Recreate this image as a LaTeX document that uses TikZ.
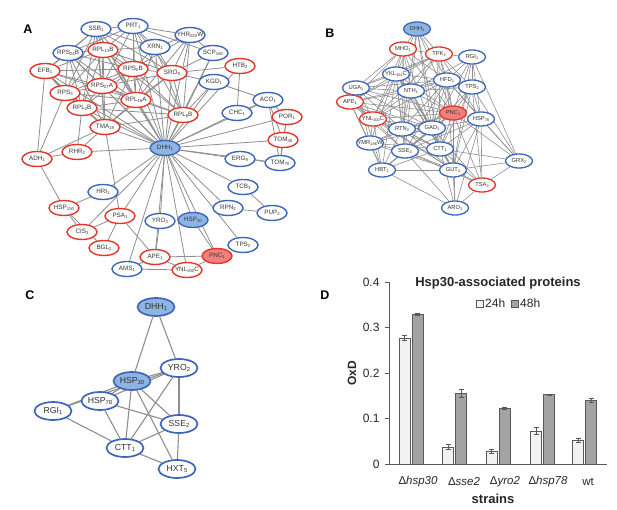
\documentclass[tikz,border=0pt]{standalone}
\usepackage{fontspec}
\setmainfont{Liberation Sans}
\usetikzlibrary{shapes.geometric}
\definecolor{nred}{HTML}{E2362A}
\definecolor{nblue}{HTML}{3E66B8}
\definecolor{fblue}{HTML}{8EB4E3}
\definecolor{fred}{HTML}{F08080}
\definecolor{egray}{HTML}{8E8E8E}
\definecolor{bwhite}{HTML}{F2F2F2}
\definecolor{bgrey}{HTML}{A3A3A3}
\definecolor{bdark}{HTML}{595959}
\pgfdeclarelayer{bg}
\pgfsetlayers{bg,main}
\newcommand\lw[1]{\raisebox{-0.2ex}{\scalebox{0.68}{#1}}}
\newcommand\N[5]{\node[#4] (#1) at (#2,#3) {\makebox[0pt]{#5}};}
\newcommand\E[2]{\foreach \nb in {#2}{\draw[lnk] (#1) -- (\nb);}}
\newcommand\F[2]{\foreach \nb in {#2}{\draw[lnkb] (#1) -- (\nb);}}
\newcommand\G[2]{\foreach \nb in {#2}{\draw[lnkc] (#1) -- (\nb);}}
\newcommand\mybar[5]{%
  \draw[#5] (#1,464) rectangle ({#1+11},{464-#2*455});
  \draw[errb] ({#1+5.5},{464-(#2-#3)*455}) -- ({#1+5.5},{464-(#2+#3)*455})
    ({#1+3},{464-(#2+#3)*455}) -- ({#1+8},{464-(#2+#3)*455})
    ({#1+3},{464-(#2-#3)*455}) -- ({#1+8},{464-(#2-#3)*455});}
\tikzset{
  base/.style={ellipse, inner sep=0pt, fill=white, text=black!80},
  an/.style={base, minimum width=30pt, minimum height=15pt, line width=1.4pt, font=\fontsize{6.3}{7}\selectfont},
  bn/.style={base, minimum width=27pt, minimum height=14pt, line width=1.3pt, font=\fontsize{5.8}{6.5}\selectfont},
  cn/.style={base, minimum width=37pt, minimum height=18pt, line width=1.7pt, font=\fontsize{8.7}{10}\selectfont},
  rd/.style={draw=nred}, bl/.style={draw=nblue},
  fbl/.style={draw=nblue, fill=fblue}, frd/.style={draw=nred, fill=fred},
  lnk/.style={draw=egray, line width=0.8pt},
  lnkb/.style={draw=egray, line width=0.6pt},
  lnkc/.style={draw=egray, line width=1.1pt},
  plab/.style={font=\fontsize{12.5}{14}\selectfont\bfseries},
  wbar/.style={draw=bdark, fill=bwhite, line width=0.8pt},
  gbar/.style={draw=bdark, fill=bgrey, line width=0.8pt},
  errb/.style={draw=bdark, line width=0.8pt},
  txd/.style={font=\fontsize{12}{14}\selectfont, text=black!85},
}
\begin{document}
\begin{tikzpicture}[x=1pt,y=-1pt]
\useasboundingbox (0,0) rectangle (617,510);
% panel labels
\node[plab] (labA) at (28,29) {A};
\node[plab] (labB) at (330,33) {B};
\node[plab] (labC) at (30,295) {C};
\node[plab] (labD) at (325,295) {D};
% ---------------- Panel A nodes
\N{aSSB}{96}{29}{an,bl}{SSB\lw{1}}
\N{aPRT}{133}{26}{an,bl}{PRT\lw{1}}
\N{aXRN}{155}{47}{an,bl}{XRN\lw{1}}
\N{aYHR}{190}{35}{an,bl}{YHR\lw{020}W}
\N{aSCP}{213}{53}{an,bl}{SCP\lw{160}}
\N{aHTB}{240}{66}{an,rd}{HTB\lw{2}}
\N{aSRO}{172}{73}{an,rd}{SRO\lw{9}}
\N{aKGD}{214}{82}{an,bl}{KGD\lw{1}}
\N{aACO}{268}{100}{an,bl}{ACO\lw{1}}
\N{aCHC}{237}{113}{an,bl}{CHC\lw{1}}
\N{aRPLsB}{183}{115}{an,rd}{RPL\lw{6}B}
\N{aPOR}{287}{117}{an,rd}{POR\lw{1}}
\N{aRPStfB}{68}{53}{an,bl}{RPS\lw{24}B}
\N{aRPLtB}{103}{50}{an,rd}{RPL\lw{13}B}
\N{aEFB}{45}{71}{an,rd}{EFB\lw{1}}
\N{aRPSzB}{133}{69}{an,rd}{RPS\lw{0}B}
\N{aRPSt}{65}{93}{an,rd}{RPS\lw{3}}
\N{aRPSsA}{102}{86}{an,rd}{RPS\lw{27}A}
\N{aRPLsA}{136}{100}{an,rd}{RPL\lw{16}A}
\N{aRPLtwB}{82}{108}{an,rd}{RPL\lw{2}B}
\N{aTMA}{105}{127}{an,rd}{TMA\lw{19}}
\N{aADH}{37}{159}{an,rd}{ADH\lw{1}}
\N{aRHR}{77}{152}{an,rd}{RHR\lw{2}}
\N{aDHH}{165}{148}{an,fbl}{DHH\lw{1}}
\N{aHRI}{103}{192}{an,bl}{HRI\lw{1}}
\N{aHSPa}{64}{208}{an,rd}{HSP\lw{150}}
\N{aPSA}{120}{216}{an,rd}{PSA\lw{1}}
\N{aCIS}{82}{232}{an,rd}{CIS\lw{3}}
\N{aBGL}{104}{248}{an,rd}{BGL\lw{2}}
\N{aYRO}{160}{221}{an,bl}{YRO\lw{2}}
\N{aHSPb}{193}{220}{an,fbl}{HSP\lw{30}}
\N{aTOMa}{283}{140}{an,rd}{TOM\lw{40}}
\N{aERG}{240}{159}{an,bl}{ERG\lw{9}}
\N{aTOMb}{280}{163}{an,bl}{TOM\lw{70}}
\N{aTCB}{243}{187}{an,bl}{TCB\lw{3}}
\N{aRPN}{228}{208}{an,bl}{RPN\lw{2}}
\N{aPUP}{272}{213}{an,bl}{PUP\lw{2}}
\N{aTPS}{243}{245}{an,bl}{TPS\lw{2}}
\N{aAPE}{155}{257}{an,rd}{APE\lw{1}}
\N{aPNC}{217}{256}{an,frd}{PNC\lw{1}}
\N{aAMS}{127}{269}{an,bl}{AMS\lw{1}}
\N{aYNL}{187}{270}{an,rd}{YNL\lw{200}C}
% ---------------- Panel B nodes
\N{bDHH}{417}{29}{bn,fbl}{DHH\lw{1}}
\N{bMHO}{403}{49}{bn,rd}{MHO\lw{1}}
\N{bTPK}{439}{54}{bn,rd}{TPK\lw{2}}
\N{bRGI}{472}{57}{bn,bl}{RGI\lw{1}}
\N{bYKL}{396}{74}{bn,bl}{YKL\lw{151}C}
\N{bUGA}{356}{88}{bn,bl}{UGA\lw{1}}
\N{bNTH}{411}{91}{bn,bl}{NTH\lw{1}}
\N{bHFD}{447}{80}{bn,bl}{HFD\lw{1}}
\N{bTPS}{472}{87}{bn,bl}{TPS\lw{2}}
\N{bAPE}{350}{102}{bn,rd}{APE\lw{1}}
\N{bPNC}{453}{113}{bn,frd}{PNC\lw{1}}
\N{bHSP}{481}{119}{bn,bl}{HSP\lw{78}}
\N{bYNL}{373}{119}{bn,rd}{YNL\lw{200}C}
\N{bRTN}{402}{129}{bn,bl}{RTN\lw{2}}
\N{bGAD}{432}{128}{bn,bl}{GAD\lw{1}}
\N{bYMR}{370}{143}{bn,bl}{YMR\lw{196}W}
\N{bSSE}{405}{151}{bn,bl}{SSE\lw{2}}
\N{bCTT}{440}{149}{bn,bl}{CTT\lw{1}}
\N{bHBT}{382}{170}{bn,bl}{HBT\lw{1}}
\N{bGUT}{453}{170}{bn,bl}{GUT\lw{2}}
\N{bGRX}{519}{161}{bn,bl}{GRX\lw{2}}
\N{bTSA}{482}{185}{bn,rd}{TSA\lw{2}}
\N{bARO}{455}{208}{bn,bl}{ARO\lw{1}}
% ---------------- Panel C nodes
\N{cDHH}{156}{307}{cn,fbl}{DHH\lw{1}}
\N{cYRO}{179}{368}{cn,bl}{YRO\lw{2}}
\N{cHSPa}{132}{381}{cn,fbl}{HSP\lw{30}}
\N{cHSPb}{100}{401}{cn,bl}{HSP\lw{78}}
\N{cRGI}{53}{411}{cn,bl}{RGI\lw{1}}
\N{cSSE}{179}{424}{cn,bl}{SSE\lw{2}}
\N{cCTT}{125}{448}{cn,bl}{CTT\lw{1}}
\N{cHXT}{177}{469}{cn,bl}{HXT\lw{5}}
\begin{pgfonlayer}{bg}
% A edges
\E{aDHH}{aSSB,aPRT,aXRN,aYHR,aSCP,aSRO,aKGD,aRPLsB,aRPSzB,aRPLsA,aRPSsA,aRPLtB,aRPSt,aRPLtwB,aTMA,aRHR,aEFB,aRPStfB,aHRI,aPSA,aCIS,aYRO,aHSPb,aAPE,aPNC,aAMS,aYNL,aTPS,aRPN,aTCB,aERG,aTOMb,aTOMa,aPOR,aACO,aCHC,aHTB}
\E{aSSB}{aPRT,aRPStfB,aRPLtB,aRPSzB,aRPSsA,aRPLsA,aRPLtwB,aSRO,aXRN,aEFB,aRPSt,aTMA}
\E{aPRT}{aXRN,aYHR,aRPStfB,aRPLtB,aRPSzB,aSRO,aRPLsA,aRPSsA,aRPLsB,aSCP}
\E{aXRN}{aYHR,aSRO,aRPSzB,aRPLsB,aRPLtB,aRPLsA}
\E{aYHR}{aSRO,aSCP,aRPLsB,aRPSzB,aRPLsA}
\E{aSCP}{aSRO,aRPLsB}
\E{aSRO}{aHTB,aKGD,aRPLsB,aRPSzB,aRPLsA,aRPSsA,aTMA,aRPLtB}
\E{aRPStfB}{aRPLtB,aEFB,aRPSt,aRPSsA,aRPLtwB,aRPSzB,aRPLsA,aTMA}
\E{aRPLtB}{aRPSzB,aRPSsA,aRPLsA,aRPSt,aRPLtwB,aEFB,aTMA,aRPLsB}
\E{aEFB}{aRPSt,aRPSsA,aRPLtwB,aRPSzB,aRPLsA,aTMA,aADH}
\E{aRPSzB}{aRPSsA,aRPLsA,aRPLsB,aRPLtwB,aTMA,aRPSt}
\E{aRPSt}{aRPSsA,aRPLtwB,aRPLsA,aTMA,aADH}
\E{aRPSsA}{aRPLsA,aRPLtwB,aTMA,aRPLsB}
\E{aRPLsA}{aRPLtwB,aTMA,aRPLsB}
\E{aRPLtwB}{aTMA,aRPLsB,aRHR}
\E{aTMA}{aRHR,aADH,aPSA,aRPLsB}
\E{aKGD}{aACO,aRPLsB}
\E{aHTB}{aCHC}
\E{aACO}{aCHC,aPOR,aTOMa,aTOMb}
\E{aPOR}{aTOMa,aTOMb}
\E{aTOMa}{aTOMb}
\E{aERG}{aTOMb}
\E{aPUP}{aTCB,aRPN}
\E{aADH}{aRHR,aHSPa}
\E{aHSPa}{aHRI,aCIS,aBGL}
\E{aPSA}{aCIS,aBGL,aAPE}
\E{aAPE}{aYRO,aPNC,aYNL,aAMS}
\E{aYNL}{aAMS,aPNC}
\E{aPNC}{aHSPb}
% B edges
\F{bDHH}{bMHO,bTPK,bYKL,bNTH,bHFD,bPNC,bGAD,bCTT,bRTN}
\F{bMHO}{bTPK,bYKL,bUGA,bAPE,bNTH,bHFD,bPNC,bGAD,bYNL,bRTN,bSSE}
\F{bTPK}{bRGI,bHFD,bTPS,bYKL,bNTH,bPNC,bGAD,bAPE,bUGA,bYNL,bCTT,bHSP}
\F{bRGI}{bHFD,bTPS,bPNC,bHSP,bGUT,bGRX,bNTH,bGAD}
\F{bYKL}{bUGA,bAPE,bNTH,bHFD,bPNC,bYNL,bRTN,bGAD,bYMR,bSSE,bHBT,bCTT,bGUT}
\F{bUGA}{bAPE,bNTH,bYNL,bPNC,bRTN,bGAD,bYMR,bHBT,bHFD}
\F{bNTH}{bHFD,bPNC,bYNL,bRTN,bGAD,bAPE,bCTT,bSSE,bGUT,bTPS}
\F{bHFD}{bTPS,bPNC,bHSP,bAPE,bYNL,bRTN,bGAD,bCTT,bGUT,bSSE,bGRX}
\F{bTPS}{bPNC,bHSP,bGAD,bGUT,bGRX,bCTT,bTSA}
\F{bAPE}{bYNL,bPNC,bRTN,bYMR,bSSE,bGAD,bHBT,bCTT,bGUT}
\F{bPNC}{bHSP,bYNL,bRTN,bGAD,bCTT,bSSE,bGUT,bTSA,bARO,bHBT,bYMR,bGRX}
\F{bHSP}{bGAD,bCTT,bGUT,bTSA,bGRX,bSSE,bARO}
\F{bYNL}{bRTN,bYMR,bSSE,bHBT,bGAD,bCTT,bGUT}
\F{bRTN}{bGAD,bYMR,bSSE,bCTT,bHBT,bGUT}
\F{bGAD}{bCTT,bSSE,bGUT,bYMR,bHBT,bTSA}
\F{bYMR}{bSSE,bHBT,bCTT,bGUT}
\F{bSSE}{bCTT,bHBT,bGUT,bARO,bTSA}
\F{bCTT}{bGUT,bHBT,bTSA,bARO,bGRX}
\F{bHBT}{bGUT,bARO}
\F{bGUT}{bTSA,bARO,bGRX}
\F{bTSA}{bARO,bGRX}
% C edges
\G{cDHH}{cHSPa,cYRO}
\G{cYRO}{cHSPa,cHSPb,cRGI,cSSE,cCTT}
\G{cHSPa}{cHSPb,cRGI,cCTT,cSSE,cHXT}
\G{cHSPb}{cSSE,cCTT}
\G{cRGI}{cCTT}
\G{cSSE}{cCTT,cHXT}
\G{cCTT}{cHXT}
\end{pgfonlayer}
% ---------------- Panel D chart
\draw[draw=bdark, line width=0.8pt] (389,282) coordinate (ytop) -- (389,464) coordinate (orig) -- (607,464) coordinate (xend);
\foreach \v/\l in {0/0,0.1/0.1,0.2/0.2,0.3/0.3,0.4/0.4}{
  \draw[draw=bdark, line width=0.8pt] (385,{464-\v*455}) -- (389,{464-\v*455});
  \node[txd, anchor=east] (tick\l) at (383,{464-\v*455}) {\l};
}
\mybar{399}{0.277}{0.006}{}{wbar}
\mybar{412}{0.328}{0.002}{}{gbar}
\mybar{442.5}{0.037}{0.006}{}{wbar}
\mybar{455.5}{0.155}{0.008}{}{gbar}
\mybar{486}{0.028}{0.005}{}{wbar}
\mybar{499}{0.123}{0.002}{}{gbar}
\mybar{530.5}{0.072}{0.008}{}{wbar}
\mybar{543.5}{0.152}{0.002}{}{gbar}
\mybar{572.5}{0.052}{0.005}{}{wbar}
\mybar{585.5}{0.140}{0.004}{}{gbar}
\node[txd, font=\fontsize{13}{15}\selectfont\bfseries] (dtitle) at (498,283) {Hsp30-associated proteins};
\draw[wbar] (476,300) rectangle (483,307);
\node[txd, anchor=west, inner sep=1pt] (leg24) at (484,303.5) {24h};
\draw[gbar] (511,300) rectangle (518,307);
\node[txd, anchor=west, inner sep=1pt] (leg48) at (519,303.5) {48h};
\node[txd, font=\fontsize{12}{14}\selectfont\bfseries, rotate=90] (ylab) at (352,373) {OxD};
\node[txd, font=\fontsize{11.5}{13}\selectfont] (x1) at (418,482) {Δ\textit{hsp30}};
\node[txd, font=\fontsize{11.5}{13}\selectfont] (x2) at (464,482) {Δ\textit{sse2}};
\node[txd, font=\fontsize{11.5}{13}\selectfont] (x3) at (505,482) {Δ\textit{yro2}};
\node[txd, font=\fontsize{11.5}{13}\selectfont] (x4) at (548,482) {Δ\textit{hsp78}};
\node[txd, font=\fontsize{11.5}{13}\selectfont] (x5) at (588,482) {wt};
\node[txd, font=\fontsize{13}{15}\selectfont\bfseries] (xlab) at (493,499) {strains};
\end{tikzpicture}
\end{document}
